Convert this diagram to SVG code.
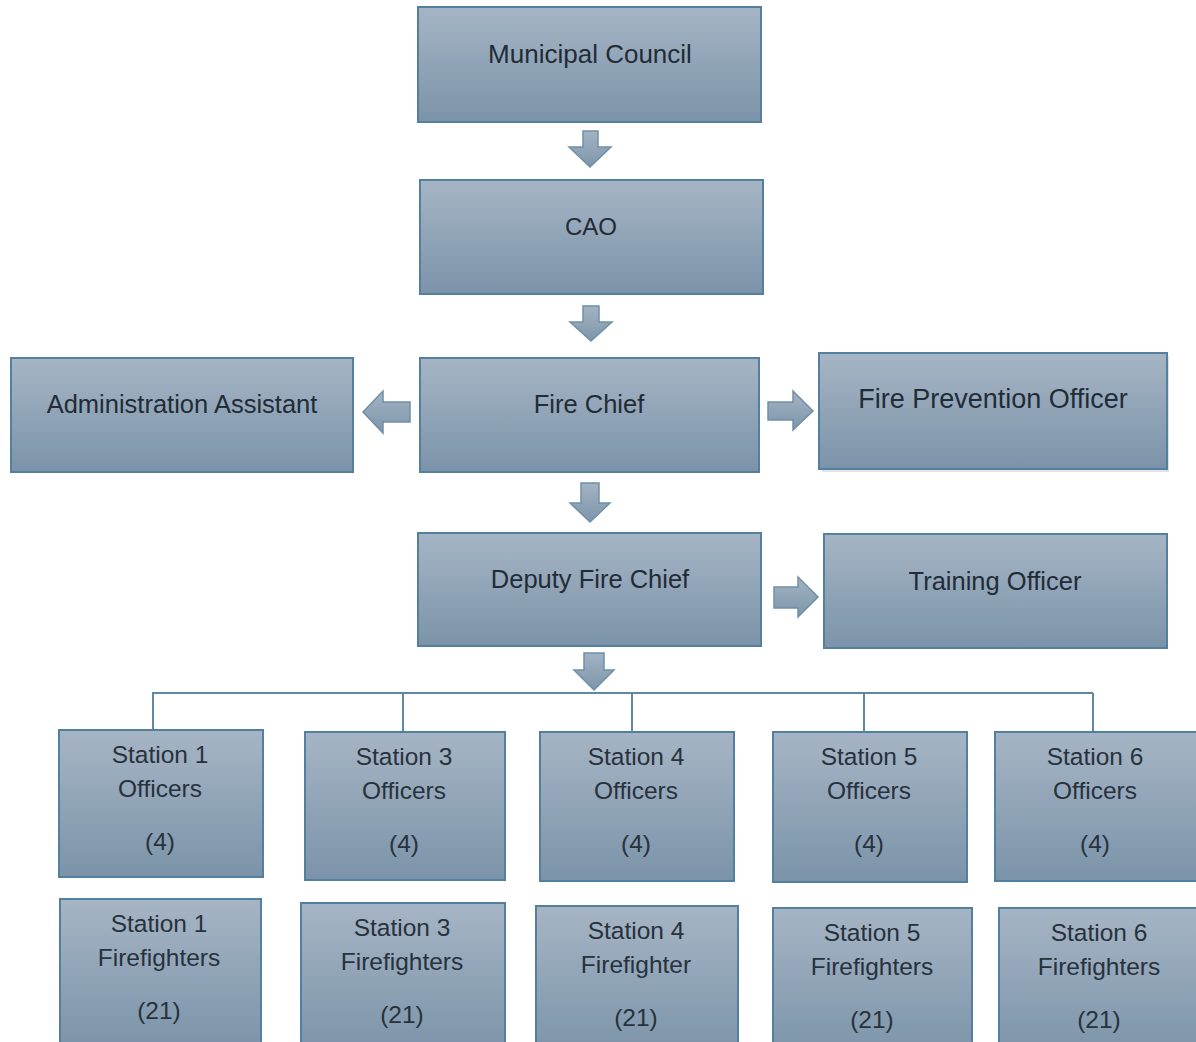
<svg xmlns="http://www.w3.org/2000/svg" width="1196" height="1042" viewBox="0 0 1196 1042">
<defs>
<linearGradient id="g" x1="0" y1="0" x2="0" y2="1">
<stop offset="0" stop-color="#a6b5c5"/>
<stop offset="1" stop-color="#7b93a9"/>
</linearGradient>
<linearGradient id="ga" x1="0" y1="0" x2="0" y2="1">
<stop offset="0" stop-color="#a3b4c3"/>
<stop offset="1" stop-color="#7d95aa"/>
</linearGradient>
</defs>
<style>
.box{fill:url(#g);stroke:#52809e;stroke-width:2}
.t{font-family:"Liberation Sans",Arial,sans-serif;font-size:25.5px;fill:#222c36;text-anchor:middle}
.s{font-family:"Liberation Sans",Arial,sans-serif;font-size:24.5px;fill:#28323d;text-anchor:middle}
.arr{fill:url(#ga);stroke:#6f90a8;stroke-width:1.5}
.ln{stroke:#5f88a3;stroke-width:2;fill:none}
</style>
<rect width="1196" height="1042" fill="#ffffff"/>

<g id="connectors">
<path class="arr" d="M583,131 H598 V147 H611 L590,167 L569,147 H583 Z"/>
<path class="arr" d="M583,306 H599 V322 H612 L591,341 L570,322 H583 Z"/>
<path class="arr" d="M581,483 H599 V503 H610 L590,522 L570,503 H581 Z"/>
<path class="arr" d="M584,653 H604 V670 H614 L594,690 L574,670 H584 Z"/>
<path class="arr" d="M410,402 V422 H383 V433 L363,412 L383,391 V402 Z"/>
<path class="arr" d="M768,402 H793 V391 L813,411 L793,430 V420 H768 Z"/>
<path class="arr" d="M774,587 H798 V577 L818,597 L798,617 V608 H774 Z"/>
<path class="ln" d="M152,693 H1093 M153,693 V730 M403,693 V732 M632,693 V732 M864,693 V732 M1093,693 V732"/>
</g>

<g id="municipal-council"><rect class="box" x="418" y="7" width="343" height="115"/><text class="t" x="590" y="63" style="font-size:26px">Municipal Council</text></g>
<g id="cao"><rect class="box" x="420" y="180" width="343" height="114"/><text class="t" x="591" y="235" style="font-size:24px">CAO</text></g>
<g id="admin-assistant"><rect class="box" x="11" y="358" width="342" height="114"/><text class="t" x="182" y="413">Administration Assistant</text></g>
<g id="fire-chief"><rect class="box" x="420" y="358" width="339" height="114"/><text class="t" x="589" y="413">Fire Chief</text></g>
<g id="fire-prevention-officer"><rect x="822" y="356" width="347" height="116" fill="#c9d2db" opacity="0.6"/><rect class="box" x="819" y="353" width="348" height="116"/><text class="t" x="993" y="408" style="font-size:27px">Fire Prevention Officer</text></g>
<g id="deputy-fire-chief"><rect class="box" x="418" y="533" width="343" height="113"/><text class="t" x="590" y="588">Deputy Fire Chief</text></g>
<g id="training-officer"><rect class="box" x="824" y="534" width="343" height="114"/><text class="t" x="995" y="590">Training Officer</text></g>

<g id="station1-officers"><rect class="box" x="59" y="730" width="204" height="147"/><text class="s" x="160" y="763">Station 1</text><text class="s" x="160" y="797">Officers</text><text class="s" x="160" y="850">(4)</text></g>
<g id="station3-officers"><rect class="box" x="305" y="732" width="200" height="148"/><text class="s" x="404" y="765">Station 3</text><text class="s" x="404" y="799">Officers</text><text class="s" x="404" y="852">(4)</text></g>
<g id="station4-officers"><rect class="box" x="540" y="732" width="194" height="149"/><text class="s" x="636" y="765">Station 4</text><text class="s" x="636" y="799">Officers</text><text class="s" x="636" y="852">(4)</text></g>
<g id="station5-officers"><rect class="box" x="773" y="732" width="194" height="150"/><text class="s" x="869" y="765">Station 5</text><text class="s" x="869" y="799">Officers</text><text class="s" x="869" y="852">(4)</text></g>
<g id="station6-officers"><rect class="box" x="995" y="732" width="205" height="149"/><text class="s" x="1095" y="765">Station 6</text><text class="s" x="1095" y="799">Officers</text><text class="s" x="1095" y="852">(4)</text></g>

<g id="station1-firefighters"><rect class="box" x="60" y="899" width="201" height="150"/><text class="s" x="159" y="932">Station 1</text><text class="s" x="159" y="966">Firefighters</text><text class="s" x="159" y="1019">(21)</text></g>
<g id="station3-firefighters"><rect class="box" x="301" y="903" width="204" height="150"/><text class="s" x="402" y="936">Station 3</text><text class="s" x="402" y="970">Firefighters</text><text class="s" x="402" y="1023">(21)</text></g>
<g id="station4-firefighters"><rect class="box" x="536" y="906" width="202" height="150"/><text class="s" x="636" y="939">Station 4</text><text class="s" x="636" y="973">Firefighter</text><text class="s" x="636" y="1026">(21)</text></g>
<g id="station5-firefighters"><rect class="box" x="773" y="908" width="199" height="150"/><text class="s" x="872" y="941">Station 5</text><text class="s" x="872" y="975">Firefighters</text><text class="s" x="872" y="1028">(21)</text></g>
<g id="station6-firefighters"><rect class="box" x="999" y="908" width="201" height="150"/><text class="s" x="1099" y="941">Station 6</text><text class="s" x="1099" y="975">Firefighters</text><text class="s" x="1099" y="1028">(21)</text></g>
</svg>
